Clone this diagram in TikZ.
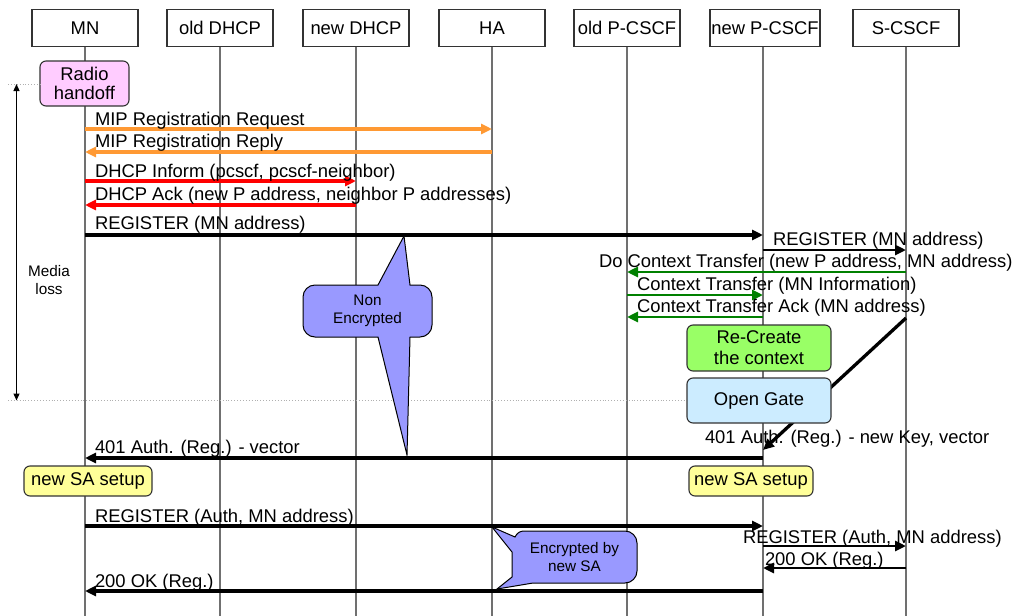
\documentclass[tikz,border=0pt]{standalone}
\usepackage{fontspec}
\setmainfont{Liberation Sans}
\usetikzlibrary{arrows.meta}
\definecolor{boxline}{HTML}{333333}
\definecolor{lifegray}{HTML}{707070}
\definecolor{guidegray}{HTML}{B0B0B0}
\definecolor{mipcol}{HTML}{FF9933}
\definecolor{dhcpcol}{HTML}{FF0000}
\definecolor{ctxcol}{HTML}{008000}
\definecolor{pinkfill}{HTML}{FFCCFF}
\definecolor{greenfill}{HTML}{99FF66}
\definecolor{bluefill}{HTML}{CCECFF}
\definecolor{yellowfill}{HTML}{FFFF99}
\definecolor{calloutblue}{HTML}{9999FF}
\begin{document}
\begin{tikzpicture}[x=1pt,y=-1pt,
  every node/.style={inner sep=0pt,outer sep=0pt},
  big/.style={font=\fontsize{18.4}{20}\selectfont},
  small/.style={font=\fontsize{15.3}{18.5}\selectfont},
  actor/.style={draw=boxline,line width=1.2pt,fill=white,minimum width=106pt,minimum height=37pt,big},
  lifeline/.style={draw=lifegray,line width=1.7pt},
  guide/.style={draw=guidegray,line width=0.9pt,dotted},
  msg/.style={line width=3.3pt,-{Triangle[length=11pt,width=10pt]}},
  lbl/.style={anchor=base west,big},
  note/.style={draw=boxline,line width=1.1pt,rounded corners=6pt,align=center,big},
  callout/.style={draw=black,line width=1pt,fill=calloutblue},
]
\useasboundingbox (0,0) rectangle (1018,616);

% participants
\node[actor] (mn)      at (85,28)  {MN};
\node[actor] (olddhcp) at (220,28) {old DHCP};
\node[actor] (newdhcp) at (356,28) {new DHCP};
\node[actor] (ha)      at (492,28) {HA};
\node[actor] (oldp)    at (627,28) {old P-CSCF};
\node[actor,minimum width=110pt] (newp) at (765,28) {new P-CSCF};
\node[actor] (scscf)   at (906,28) {S-CSCF};

% lifelines
\foreach \p in {mn,olddhcp,newdhcp,ha,oldp,scscf}
  \draw[lifeline] (\p.south) -- (\p |- 0,616);
\coordinate (npl) at (763,46.5);
\draw[lifeline] (npl) -- (npl |- 0,616);

% media loss interval
\node[note,fill=pinkfill,minimum width=89pt,minimum height=45pt] (handoff) at (84.5,83.5)
  {Radio\\[-1.5pt]handoff};
\coordinate (lossTop) at (16.5,84);
\coordinate (lossBot) at (16.5,400.5);
\draw[guide] (8,84) -- (handoff.west |- 0,84);
\draw[guide] (8,400.5) -- (687,400.5);
\draw[line width=1.2pt,{Triangle[length=7pt,width=6pt]}-{Triangle[length=7pt,width=6pt]}] (lossTop) -- (lossBot);
\node[small,align=center] (loss) at (49,280) {Media\\loss};

% Mobile IP
\draw[msg,mipcol] (mn |- 0,129) -- (ha |- 0,129);
\node[lbl] (m1) at (95,125) {MIP Registration Request};
\draw[msg,mipcol] (ha |- 0,152) -- (mn |- 0,152);
\node[lbl] (m2) at (95,147) {MIP Registration Reply};

% DHCP
\draw[msg,dhcpcol] (mn |- 0,181) -- (newdhcp |- 0,181);
\node[lbl] (m3) at (95,177) {DHCP Inform (pcscf, pcscf-neighbor)};
\draw[msg,dhcpcol] (newdhcp |- 0,205) -- (mn |- 0,205);
\node[lbl] (m4) at (95,200) {DHCP Ack (new P address, neighbor P addresses)};

% first registration
\draw[msg] (mn |- 0,235) -- (npl |- 0,235);
\node[lbl] (m5) at (95,229) {REGISTER (MN address)};
\draw[msg,line width=2.8pt] (npl |- 0,250) -- (scscf |- 0,250);
\node[lbl] (m6) at (773,245) {REGISTER (MN address)};

% context transfer
\draw[msg,ctxcol,line width=2.8pt] (scscf |- 0,272) -- (oldp |- 0,272);
\node[lbl] (m7) at (599,267) {Do Context Transfer (new P address, MN address)};
\draw[msg,ctxcol,line width=2.8pt] (oldp |- 0,295) -- (npl |- 0,295);
\node[lbl] (m8) at (637,290) {Context Transfer (MN Information)};
\draw[msg,ctxcol,line width=2.8pt] (npl |- 0,317) -- (oldp |- 0,317);
\node[lbl] (m9) at (637,312) {Context Transfer Ack (MN address)};

% 401 challenge crossing behind the gate box
\draw[msg] (scscf |- 0,318) -- (npl |- 0,450);
\node[note,fill=greenfill,minimum width=144pt,minimum height=46pt] (recreate) at (759,348)
  {Re-Create\\[1pt]the context};
\node[note,fill=bluefill,minimum width=144pt,minimum height=45pt] (gate) at (759,400.5) {Open Gate};
\node[lbl] (m10) at (705,443) {401 Auth. (Reg.) - new Key, vector};
\draw[msg] (npl |- 0,458) -- (mn |- 0,458);
\node[lbl] (m11) at (95,453) {401 Auth. (Reg.) - vector};

% security association
\node[note,fill=yellowfill,minimum width=128pt,minimum height=30pt] (saL) at (88,481) {new SA setup};
\node[note,fill=yellowfill,minimum width=124pt,minimum height=30pt] (saR) at (751,481) {new SA setup};

% protected registration
\draw[msg] (mn |- 0,526) -- (npl |- 0,526);
\node[lbl] (m12) at (95,522) {REGISTER (Auth, MN address)};
\draw[msg,line width=2.8pt] (npl |- 0,546) -- (scscf |- 0,546);
\node[lbl] (m13) at (743,543) {REGISTER (Auth, MN address)};
\draw[msg,line width=2.8pt] (scscf |- 0,568) -- (npl |- 0,568);
\node[lbl] (m14) at (765,565) {200 OK (Reg.)};
\draw[msg] (npl |- 0,591) -- (mn |- 0,591);
\node[lbl] (m15) at (95,587) {200 OK (Reg.)};

% callouts
\path[callout] (315,285) -- (378,285) -- (404,236) -- (410,285) -- (420,285)
  .. controls (426.6,285) and (432,290.4) .. (432,297) -- (432,325)
  .. controls (432,331.6) and (426.6,337) .. (420,337) -- (410,337) -- (407,455) -- (378,337)
  -- (315,337) .. controls (308.4,337) and (303,331.6) .. (303,325) -- (303,297)
  .. controls (303,290.4) and (308.4,285) .. (315,285) -- cycle;
\node[small,align=center] (nonenc) at (367.5,311) {Non\\Encrypted};

\path[callout] (524,531) -- (625,531) .. controls (631.6,531) and (637,536.4) .. (637,543)
  -- (637,571) .. controls (637,577.6) and (631.6,583) .. (625,583) -- (533,583)
  -- (497,589) -- (512,577) -- (512,552) -- (492,527) -- (515,537)
  .. controls (517,533) and (520,531) .. (524,531) -- cycle;
\node[small,align=center] (enc) at (574.5,557) {Encrypted by\\new SA};
\end{tikzpicture}
\end{document}
